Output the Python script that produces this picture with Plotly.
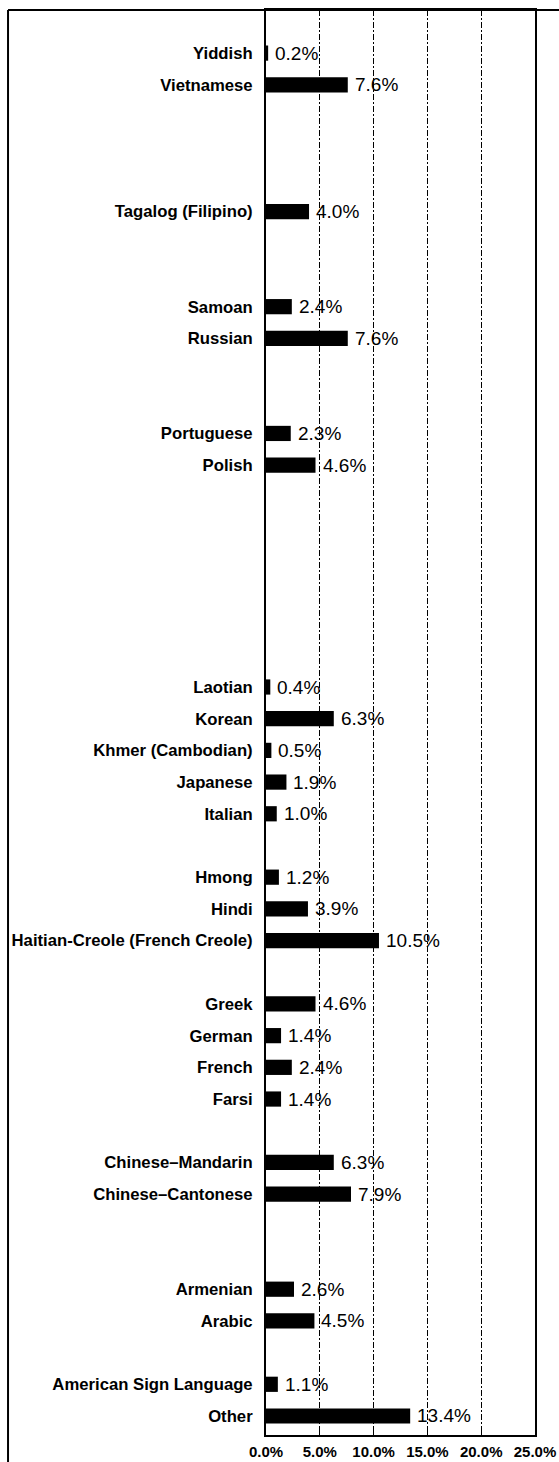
import plotly.graph_objects as go

# Categories from bottom to top; "" marks an empty slot in the original chart
languages = [
    "Other", "American Sign Language", "", "Arabic", "Armenian", "", "",
    "Chinese–Cantonese", "Chinese–Mandarin", "", "Farsi", "French", "German", "Greek", "",
    "Haitian-Creole (French Creole)", "Hindi", "Hmong", "", "Italian", "Japanese",
    "Khmer (Cambodian)", "Korean", "Laotian", "", "", "", "", "", "",
    "Polish", "Portuguese", "", "", "Russian", "Samoan", "", "",
    "Tagalog (Filipino)", "", "", "", "Vietnamese", "Yiddish", "",
]
shares = [
    13.4, 1.1, None, 4.5, 2.6, None, None,
    7.9, 6.3, None, 1.4, 2.4, 1.4, 4.6, None,
    10.5, 3.9, 1.2, None, 1.0, 1.9,
    0.5, 6.3, 0.4, None, None, None, None, None, None,
    4.6, 2.3, None, None, 7.6, 2.4, None, None,
    4.0, None, None, None, 7.6, 0.2, None,
]
tick_vals = [0, 5, 10, 15, 20, 25]
tick_text = ["0.0%", "5.0%", "10.0%", "15.0%", "20.0%", "25.0%"]

# unique category keys (blank slots get distinct whitespace keys)
cats = []
blank = 0
for name in languages:
    if name == "":
        blank += 1
        cats.append(" " * blank)
    else:
        cats.append(name)

FONT = "Arial, Liberation Sans, sans-serif"

fig = go.Figure()
fig.add_trace(go.Bar(
    x=shares, y=cats, orientation="h",
    marker=dict(color="black", line=dict(width=0)),
    showlegend=False, hoverinfo="skip",
))

for c, v in zip(cats, shares):
    if v is None:
        continue
    fig.add_annotation(
        x=v, y=c, text=f"{v:.1f}%", showarrow=False,
        xanchor="left", yanchor="middle", xshift=5,
        font=dict(family=FONT, size=19, color="black"),
    )

fig.update_layout(
    width=559, height=1462,
    margin=dict(l=266, r=24, t=10, b=27),
    paper_bgcolor="white", plot_bgcolor="white",
    bargap=0.52,
    font=dict(family=FONT, color="black"),
    xaxis=dict(
        range=[0, 25], tickvals=tick_vals, ticktext=tick_text,
        showgrid=True, gridcolor="black", gridwidth=1,
        griddash="6px,2px,2px,2px",
        showline=True, linecolor="black", linewidth=2, mirror=True,
        ticks="inside", ticklen=5, tickcolor="black",
        tickfont=dict(family=FONT, size=15, color="black", weight="bold"),
        ticklabelstandoff=2,
        zeroline=False, fixedrange=True, automargin=False,
    ),
    yaxis=dict(
        type="category", categoryorder="array", categoryarray=cats,
        range=[-0.6, 44.36],
        showgrid=False, showline=True, linecolor="black", linewidth=2, mirror=True,
        ticks="", ticklabelstandoff=8,
        tickfont=dict(family=FONT, size=16.7, color="black", weight="bold"),
        fixedrange=True, automargin=False,
    ),
    shapes=[
        dict(type="line", xref="paper", yref="paper", x0=-0.959, x1=1.1, y0=1, y1=1,
             line=dict(color="black", width=2)),
        dict(type="line", xref="paper", yref="paper", x0=-0.959, x1=-0.959, y0=1, y1=-0.03,
             line=dict(color="black", width=2)),
    ],
)

fig.write_html(
    "out.html",
    config={"displayModeBar": False},
    post_script="document.body.style.margin='0';document.body.style.overflow='hidden';",
)
